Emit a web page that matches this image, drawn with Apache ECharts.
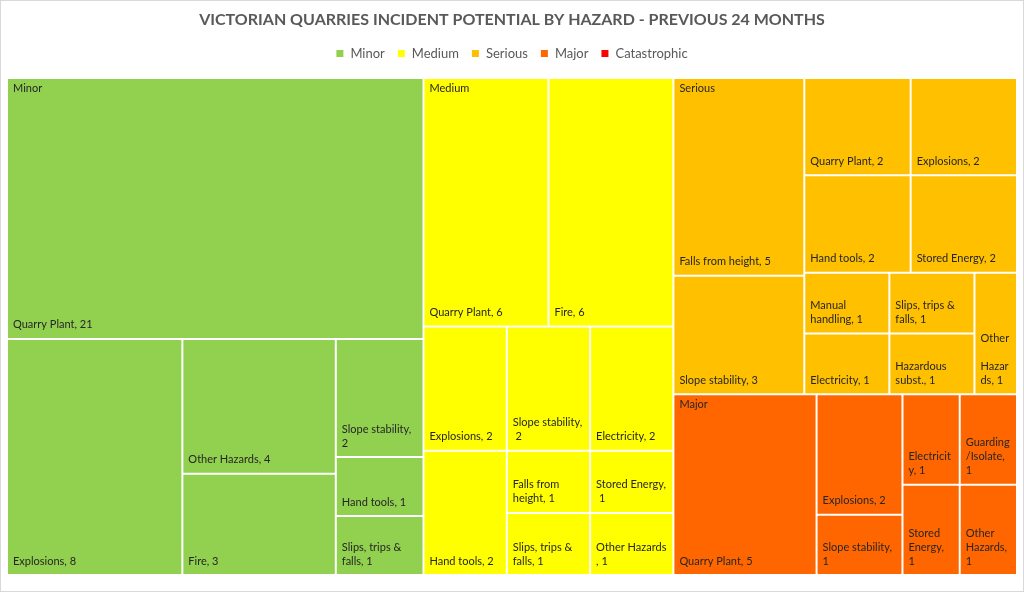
<!DOCTYPE html>
<html>
<head>
<meta charset="utf-8">
<title>Victorian quarries incident potential by hazard</title>
<script src="https://cdn.jsdelivr.net/npm/echarts@6.0.0/dist/echarts.min.js"></script>
<style>
    html, body { margin: 0; padding: 0; background: #fff; }
    #wrap { position: relative; width: 1024px; height: 592px; }
    #statistics { width: 1024px; height: 592px; }
    #frame { position: absolute; left: 0; top: 0; width: 1024px; height: 592px; box-sizing: border-box; border: 1px solid #d9d9d9; pointer-events: none; }
</style>
</head>
<body>
<div id="wrap">
    <div id="statistics"></div>
    <div id="frame"></div>
</div>
<script type="text/javascript">
// potential severity levels, in the order used by the legend
var categories = ['Minor', 'Medium', 'Serious', 'Major', 'Catastrophic'];
var categoryColors = ['#92d050', '#ffff00', '#ffc000', '#ff6600', '#ff0000'];

// incident counts per hazard, largest first (layout follows this order)
var minorHazards = ['Quarry Plant', 'Explosions', 'Other Hazards', 'Fire', 'Slope stability', 'Hand tools', 'Slips, trips & falls'];
var minorCounts = [21, 8, 4, 3, 2, 1, 1];

var mediumHazards = ['Quarry Plant', 'Fire', 'Explosions', 'Hand tools', 'Slope stability', 'Electricity',
    'Falls from height', 'Slips, trips & falls', 'Stored Energy', 'Other Hazards'];
var mediumCounts = [6, 6, 2, 2, 2, 2, 1, 1, 1, 1];

var seriousHazards = ['Falls from height', 'Slope stability', 'Quarry Plant', 'Explosions', 'Hand tools', 'Stored Energy',
    'Manual handling', 'Electricity', 'Slips, trips & falls', 'Hazardous subst.', 'Other Hazards'];
var seriousCounts = [5, 3, 2, 2, 2, 2, 1, 1, 1, 1, 1];

var majorHazards = ['Quarry Plant', 'Explosions', 'Slope stability', 'Electricity', 'Guarding/Isolate', 'Stored Energy', 'Other Hazards'];
var majorCounts = [5, 2, 1, 1, 1, 1, 1];

var catastrophicHazards = [];
var catastrophicCounts = [];

var hazardNames = [minorHazards, mediumHazards, seriousHazards, majorHazards, catastrophicHazards];
var hazardCounts = [minorCounts, mediumCounts, seriousCounts, majorCounts, catastrophicCounts];

var treeData = [];
var headerData = [];
for (var i = 0; i < categories.length; i++) {
    if (!hazardCounts[i].length) continue;
    var children = [];
    var total = 0;
    for (var j = 0; j < hazardCounts[i].length; j++) {
        children.push({ name: hazardNames[i][j], value: hazardCounts[i][j] });
        total += hazardCounts[i][j];
    }
    treeData.push({ name: categories[i], itemStyle: { color: categoryColors[i] }, children: children });
    headerData.push({ name: categories[i], value: total });
}

var font = 'Lato, "Liberation Sans", sans-serif';
var box = { left: 7, top: 78, width: 1010, height: 497 };
var clear = 'rgba(0,0,0,0)';

// empty bar series only to feed the legend
var legendSeries = categories.map(function (name, k) {
    return { name: name, type: 'bar', data: [], itemStyle: { color: categoryColors[k] } };
});

var myChart = echarts.init(document.getElementById('statistics'), null, { renderer: 'canvas' });
var option = {
    animation: false,
    title: {
        text: 'VICTORIAN QUARRIES INCIDENT POTENTIAL BY HAZARD - PREVIOUS 24 MONTHS',
        left: 'center',
        top: 7,
        textStyle: { fontFamily: font, fontWeight: 'bold', fontSize: 16, color: '#595959' }
    },
    legend: {
        data: categories,
        top: 42,
        left: 'center',
        icon: 'rect',
        itemWidth: 7,
        itemHeight: 7,
        itemGap: 13,
        selectedMode: false,
        textStyle: { fontFamily: font, fontSize: 13, color: '#595959', padding: [0, 0, 0, 2] }
    },
    grid: { left: 0, top: 0, width: 1, height: 1, show: false },
    xAxis: { type: 'category', show: false },
    yAxis: { type: 'value', show: false },
    series: legendSeries.concat([
        {
            name: 'Hazards',
            type: 'treemap',
            left: box.left, top: box.top, width: box.width, height: box.height,
            sort: false,
            squareRatio: 1,
            roam: false,
            nodeClick: false,
            breadcrumb: { show: false },
            label: {
                show: true,
                position: 'insideBottomLeft',
                formatter: '{b}, {c}',
                overflow: 'break',
                fontFamily: font,
                fontSize: 11,
                lineHeight: 14,
                color: '#262626',
                padding: [5, 5, 6, 5]
            },
            levels: [
                { itemStyle: { borderWidth: 0, gapWidth: 0, borderColor: '#fff' } },
                { itemStyle: { borderWidth: 0, gapWidth: 0, borderColor: '#fff' } },
                { itemStyle: { borderWidth: 1, borderColor: '#fff' } }
            ],
            data: treeData
        },
        {
            // category names laid over their first tile, same layout as above
            name: 'Levels',
            type: 'treemap',
            left: box.left, top: box.top, width: box.width, height: box.height,
            sort: false,
            squareRatio: 1,
            roam: false,
            nodeClick: false,
            silent: true,
            z: 5,
            breadcrumb: { show: false },
            label: {
                show: true,
                position: 'insideTopLeft',
                formatter: '{b}',
                fontFamily: font,
                fontSize: 11,
                lineHeight: 14,
                color: '#262626',
                padding: [3, 5, 5, 6]
            },
            levels: [
                { itemStyle: { color: clear, borderColor: clear, borderWidth: 0, gapWidth: 0 } },
                { itemStyle: { color: clear, borderColor: clear, borderWidth: 0 } }
            ],
            data: headerData
        }
    ])
};
myChart.setOption(option);
</script>
</body>
</html>
